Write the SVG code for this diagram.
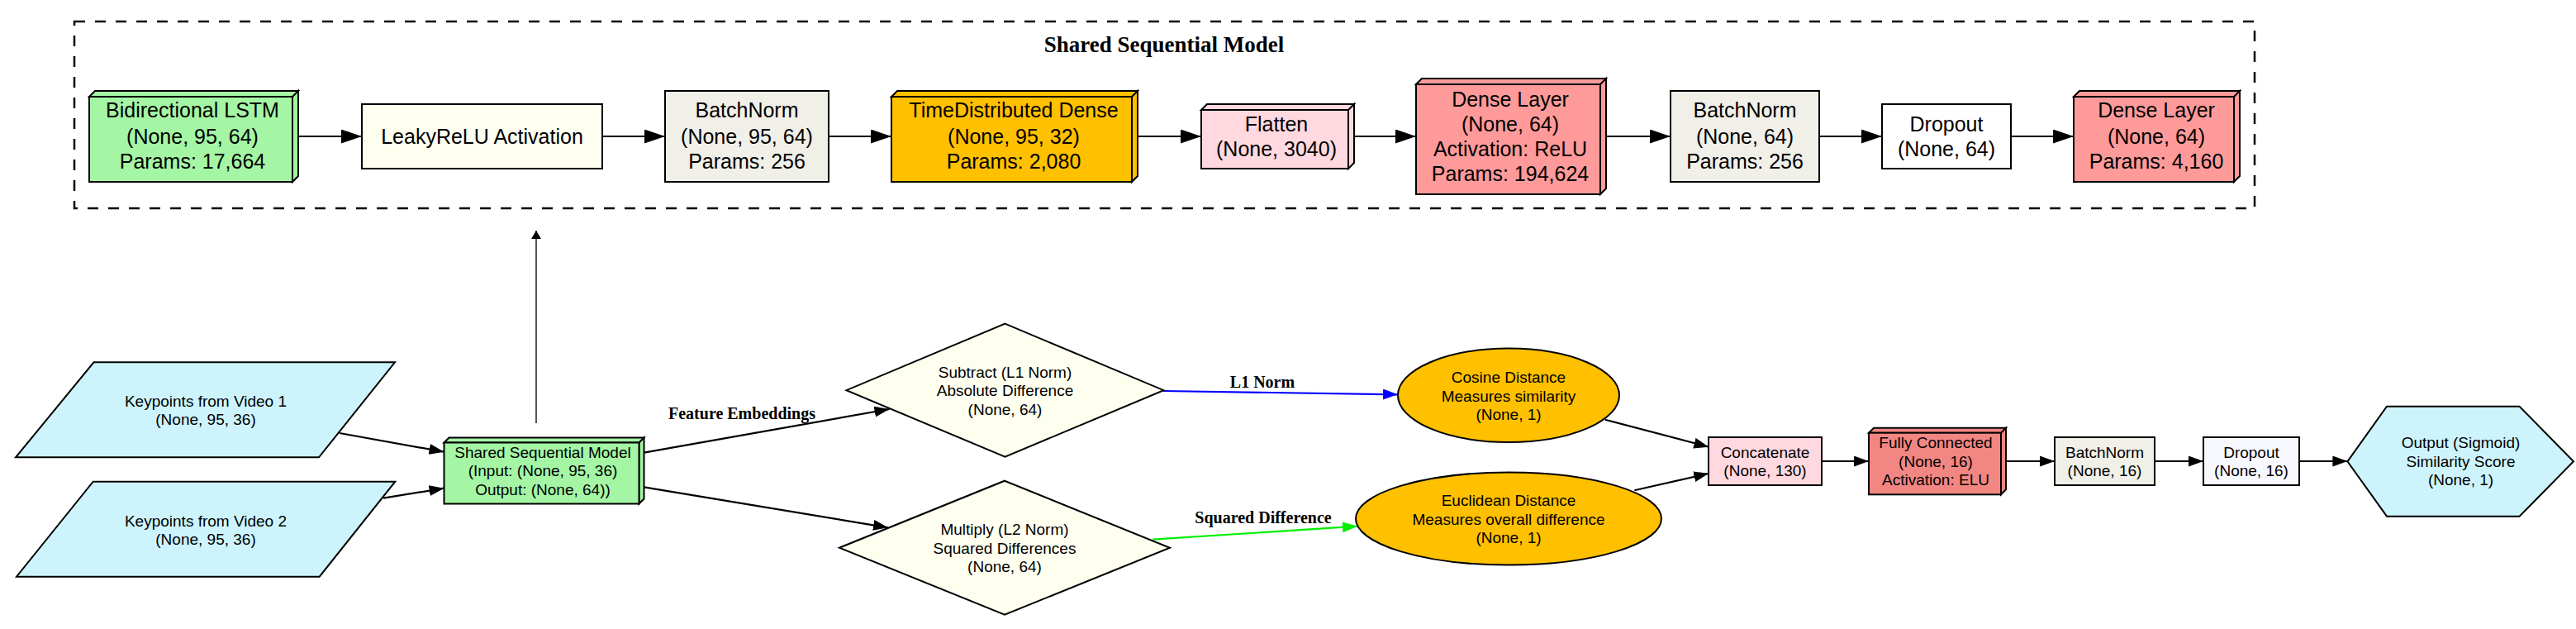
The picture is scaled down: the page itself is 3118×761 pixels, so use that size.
<svg xmlns="http://www.w3.org/2000/svg" width="3118" height="761" viewBox="0 0 3118 761">
<style>
.n{stroke:#000;stroke-width:2;stroke-linejoin:miter}
.t{font-family:"Liberation Sans",Arial,sans-serif;font-size:25px;fill:#000;text-anchor:middle}
.s{font-family:"Liberation Sans",Arial,sans-serif;font-size:19px;fill:#000;text-anchor:middle}
.lb{font-family:"Liberation Serif","Times New Roman",serif;font-weight:bold;font-size:20px;fill:#000;text-anchor:middle}
.e{fill:none;stroke:#000;stroke-width:2.2}
.green{fill:#a4f5a4}.ivory{fill:#fffff0}.bn{fill:#f0efe8}.gold{fill:#ffc000}.pink{fill:#ffd9df}.red{fill:#ff9a9a}.fc{fill:#f28682}.white{fill:#fff}.cyan{fill:#cdf4fc}
</style>
<defs>
<marker id="ah" markerUnits="userSpaceOnUse" markerWidth="26" markerHeight="18" refX="25" refY="8.5" orient="auto"><path d="M0,0 L25,8.5 L0,17 z" fill="#000"/></marker>
<marker id="as" markerUnits="userSpaceOnUse" markerWidth="20" markerHeight="14" refX="18" refY="6.5" orient="auto"><path d="M0,0 L18,6.5 L0,13 z" fill="#000"/></marker>
<marker id="ab" markerUnits="userSpaceOnUse" markerWidth="20" markerHeight="14" refX="18" refY="6.5" orient="auto"><path d="M0,0 L18,6.5 L0,13 z" fill="#0000ff"/></marker>
<marker id="ag" markerUnits="userSpaceOnUse" markerWidth="20" markerHeight="14" refX="18" refY="6.5" orient="auto"><path d="M0,0 L18,6.5 L0,13 z" fill="#00ee00"/></marker>
<marker id="au" markerUnits="userSpaceOnUse" markerWidth="12" markerHeight="14" refX="10" refY="6" orient="auto"><path d="M0,0 L10,6 L0,12 z" fill="#000"/></marker>
</defs>
<rect width="3118" height="761" fill="#fff"/>

<g id="cluster">
<rect x="90" y="26" width="2639" height="226" fill="none" stroke="#000" stroke-width="2.5" stroke-dasharray="13 12"/>
<text x="1409" y="63" font-family="'Liberation Serif','Times New Roman',serif" font-weight="bold" font-size="27" text-anchor="middle">Shared Sequential Model</text>
</g>

<g id="connectors">
<line class="e" x1="361" y1="165" x2="438" y2="165" marker-end="url(#ah)"/>
<line class="e" x1="729" y1="165" x2="805" y2="165" marker-end="url(#ah)"/>
<line class="e" x1="1003" y1="165" x2="1079" y2="165" marker-end="url(#ah)"/>
<line class="e" x1="1377" y1="165" x2="1454" y2="165" marker-end="url(#ah)"/>
<line class="e" x1="1639" y1="165" x2="1714" y2="165" marker-end="url(#ah)"/>
<line class="e" x1="1944" y1="165" x2="2022" y2="165" marker-end="url(#ah)"/>
<line class="e" x1="2202" y1="165" x2="2278" y2="165" marker-end="url(#ah)"/>
<line class="e" x1="2434" y1="165" x2="2510" y2="165" marker-end="url(#ah)"/>
<line x1="649" y1="512" x2="649" y2="279" stroke="#555" stroke-width="2" marker-end="url(#au)"/>
<line class="e" x1="411" y1="524" x2="537.5" y2="546.7" marker-end="url(#as)"/>
<line class="e" x1="464" y1="602.7" x2="537.5" y2="590.7" marker-end="url(#as)"/>
<line class="e" x1="779.4" y1="547.7" x2="1076.5" y2="495" marker-end="url(#as)"/>
<line class="e" x1="779.4" y1="589.3" x2="1075" y2="638.3" marker-end="url(#as)"/>
<line x1="1408" y1="473" x2="1692" y2="477.3" stroke="#0000ff" stroke-width="2.2" marker-end="url(#ab)"/>
<line x1="1395.4" y1="652.7" x2="1643" y2="636.7" stroke="#00ee00" stroke-width="2.2" marker-end="url(#ag)"/>
<line class="e" x1="1942.7" y1="507.7" x2="2068.3" y2="540.7" marker-end="url(#as)"/>
<line class="e" x1="1978.3" y1="593.3" x2="2068.3" y2="572.7" marker-end="url(#as)"/>
<line class="e" x1="2205" y1="558" x2="2262" y2="558" marker-end="url(#as)"/>
<line class="e" x1="2428" y1="558" x2="2487" y2="558" marker-end="url(#as)"/>
<line class="e" x1="2608" y1="558" x2="2667" y2="558" marker-end="url(#as)"/>
<line class="e" x1="2783" y1="558" x2="2841.4" y2="558" marker-end="url(#as)"/>
<text class="lb" x="898" y="506.7">Feature Embeddings</text>
<text class="lb" x="1528" y="469">L1 Norm</text>
<text class="lb" x="1529" y="633">Squared Difference</text>
</g>

<g id="lstm">
<path class="n green" d="M108,117 L115,110 L361,110 L354,117 Z M354,117 L361,110 L361,213 L354,220 Z"/>
<rect class="n green" x="108" y="117" width="246" height="103"/>
<text class="t" x="233" y="142">Bidirectional LSTM</text>
<text class="t" x="233" y="174">(None, 95, 64)</text>
<text class="t" x="233" y="204">Params: 17,664</text>
</g>

<g id="leakyrelu">
<rect class="n ivory" x="438" y="126" width="291" height="78"/>
<text class="t" x="583.5" y="174">LeakyReLU Activation</text>
</g>

<g id="batchnorm1">
<rect class="n bn" x="805" y="110" width="198" height="110"/>
<text class="t" x="904" y="142">BatchNorm</text>
<text class="t" x="904" y="174">(None, 95, 64)</text>
<text class="t" x="904" y="204">Params: 256</text>
</g>

<g id="timedistributed">
<path class="n gold" d="M1079,117 L1086,110 L1377,110 L1370,117 Z M1370,117 L1377,110 L1377,213 L1370,220 Z"/>
<rect class="n gold" x="1079" y="117" width="291" height="103"/>
<text class="t" x="1227" y="142">TimeDistributed Dense</text>
<text class="t" x="1227" y="174">(None, 95, 32)</text>
<text class="t" x="1227" y="204">Params: 2,080</text>
</g>

<g id="flatten">
<path class="n pink" d="M1454,133 L1461,126 L1639,126 L1632,133 Z M1632,133 L1639,126 L1639,197 L1632,204 Z"/>
<rect class="n pink" x="1454" y="133" width="178" height="71"/>
<text class="t" x="1545" y="159">Flatten</text>
<text class="t" x="1545" y="189">(None, 3040)</text>
</g>

<g id="dense1">
<path class="n red" d="M1714,102 L1721,95 L1944,95 L1937,102 Z M1937,102 L1944,95 L1944,228 L1937,235 Z"/>
<rect class="n red" x="1714" y="102" width="223" height="133"/>
<text class="t" x="1828" y="129">Dense Layer</text>
<text class="t" x="1828" y="159">(None, 64)</text>
<text class="t" x="1828" y="189">Activation: ReLU</text>
<text class="t" x="1828" y="219">Params: 194,624</text>
</g>

<g id="batchnorm2">
<rect class="n bn" x="2022" y="110" width="180" height="110"/>
<text class="t" x="2112" y="142">BatchNorm</text>
<text class="t" x="2112" y="174">(None, 64)</text>
<text class="t" x="2112" y="204">Params: 256</text>
</g>

<g id="dropout1">
<rect class="n white" x="2278" y="126" width="156" height="78"/>
<text class="t" x="2356" y="159">Dropout</text>
<text class="t" x="2356" y="189">(None, 64)</text>
</g>

<g id="dense2">
<path class="n red" d="M2510,117 L2517,110 L2711,110 L2704,117 Z M2704,117 L2711,110 L2711,213 L2704,220 Z"/>
<rect class="n red" x="2510" y="117" width="194" height="103"/>
<text class="t" x="2610" y="142">Dense Layer</text>
<text class="t" x="2610" y="174">(None, 64)</text>
<text class="t" x="2610" y="204">Params: 4,160</text>
</g>

<g id="keypoints1">
<polygon class="n cyan" points="113.5,438.3 478,438.3 386,553.3 19,553.3"/>
<text class="s" x="249" y="491.5">Keypoints from Video 1</text>
<text class="s" x="249" y="514">(None, 95, 36)</text>
</g>

<g id="keypoints2">
<polygon class="n cyan" points="112.7,582.7 478.3,582.7 386.7,697.7 20,697.7"/>
<text class="s" x="249" y="636.5">Keypoints from Video 2</text>
<text class="s" x="249" y="659">(None, 95, 36)</text>
</g>

<g id="shared">
<path class="n green" d="M537.5,535.5 L543.5,529.5 L779.5,529.5 L773.5,535.5 Z M773.5,535.5 L779.5,529.5 L779.5,603.5 L773.5,609.5 Z"/>
<rect class="n green" x="537.5" y="535.5" width="236" height="74"/>
<text class="s" x="657" y="553.8">Shared Sequential Model</text>
<text class="s" x="657" y="576.3">(Input: (None, 95, 36)</text>
<text class="s" x="657" y="598.8">Output: (None, 64))</text>
</g>

<g id="subtract">
<polygon class="n ivory" points="1216.5,391.7 1408.5,472.2 1216.5,552.7 1024.5,472.2"/>
<text class="s" x="1216.5" y="456.8">Subtract (L1 Norm)</text>
<text class="s" x="1216.5" y="479.3">Absolute Difference</text>
<text class="s" x="1216.5" y="501.8">(None, 64)</text>
</g>

<g id="multiply">
<polygon class="n ivory" points="1216,581.7 1416,662.7 1216,743.7 1016,662.7"/>
<text class="s" x="1216" y="647">Multiply (L2 Norm)</text>
<text class="s" x="1216" y="669.5">Squared Differences</text>
<text class="s" x="1216" y="692">(None, 64)</text>
</g>

<g id="cosine">
<ellipse class="n gold" cx="1826" cy="478.3" rx="134" ry="56.7"/>
<text class="s" x="1826" y="463">Cosine Distance</text>
<text class="s" x="1826" y="485.5">Measures similarity</text>
<text class="s" x="1826" y="508">(None, 1)</text>
</g>

<g id="euclidean">
<ellipse class="n gold" cx="1826" cy="627.5" rx="185" ry="56"/>
<text class="s" x="1826" y="612">Euclidean Distance</text>
<text class="s" x="1826" y="634.5">Measures overall difference</text>
<text class="s" x="1826" y="657">(None, 1)</text>
</g>

<g id="concatenate">
<rect class="n pink" x="2068" y="529" width="137" height="58"/>
<text class="s" x="2136.5" y="554">Concatenate</text>
<text class="s" x="2136.5" y="576">(None, 130)</text>
</g>

<g id="fullyconnected">
<path class="n fc" d="M2262,523.7 L2268,517.7 L2428,517.7 L2422,523.7 Z M2422,523.7 L2428,517.7 L2428,592.3 L2422,598.3 Z"/>
<rect class="n fc" x="2262" y="523.7" width="160" height="74.6"/>
<text class="s" x="2343" y="542.3">Fully Connected</text>
<text class="s" x="2343" y="564.8">(None, 16)</text>
<text class="s" x="2343" y="587.3">Activation: ELU</text>
</g>

<g id="batchnorm3">
<rect class="n bn" x="2487" y="529" width="121" height="58"/>
<text class="s" x="2547.5" y="554">BatchNorm</text>
<text class="s" x="2547.5" y="576">(None, 16)</text>
</g>

<g id="dropout2">
<rect class="n" fill="#f8f8ff" x="2667" y="529" width="116" height="58"/>
<text class="s" x="2725" y="554">Dropout</text>
<text class="s" x="2725" y="576">(None, 16)</text>
</g>

<g id="output">
<polygon class="n cyan" points="2841.4,558.3 2889,491.7 3049.6,491.7 3115,558.3 3049.6,624.7 2889,624.7"/>
<text class="s" x="2978.5" y="542.3">Output (Sigmoid)</text>
<text class="s" x="2978.5" y="564.8">Similarity Score</text>
<text class="s" x="2978.5" y="587.3">(None, 1)</text>
</g>
</svg>
